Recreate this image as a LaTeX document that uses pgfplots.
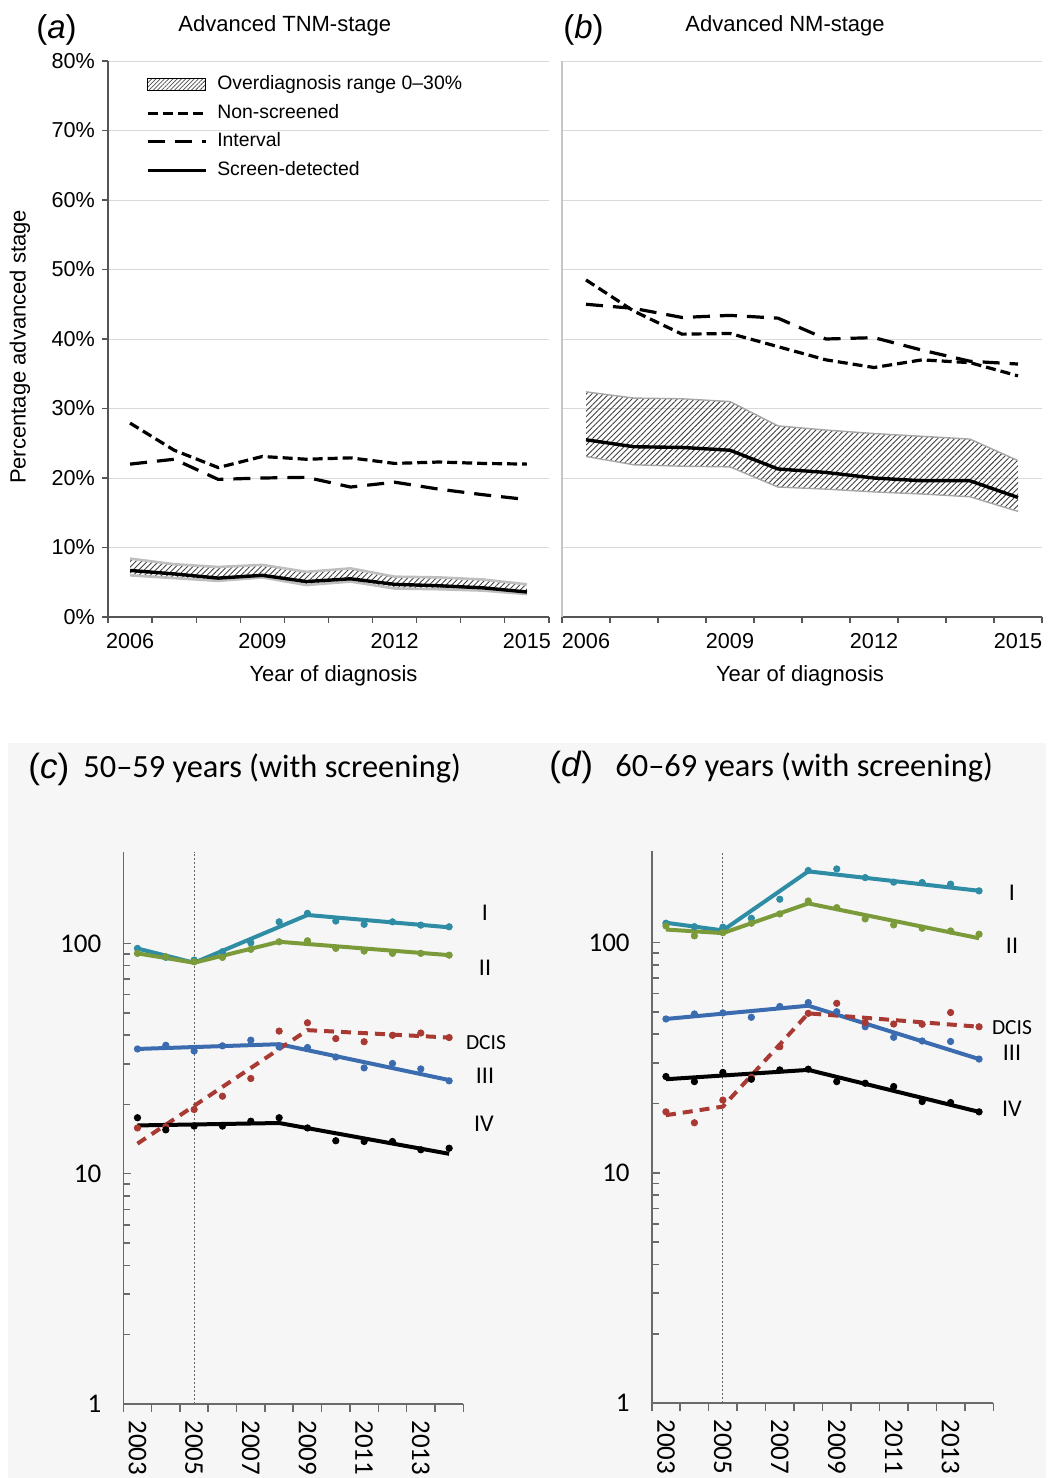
\documentclass[border=0pt]{standalone}
\usepackage{fontspec}
\setmainfont{Liberation Sans}
\newfontfamily\calib{Carlito}
\usepackage{pgfplots}
\pgfplotsset{compat=1.18}
\usetikzlibrary{patterns.meta}
\definecolor{cI}{HTML}{2E8CA5}
\definecolor{cII}{HTML}{7B9B3B}
\definecolor{cIII}{HTML}{3C6CB0}
\definecolor{cDC}{HTML}{A93A33}
\definecolor{bgc}{HTML}{F6F6F6}
\definecolor{gridc}{HTML}{D9D9D9}
\definecolor{axc}{HTML}{555555}
\definecolor{axc2}{HTML}{6A6A6A}
\pgfplotsset{
  toppanel/.style={
    anchor=south west, scale only axis, height=278pt,
    xmin=2005.5, xmax=2015.5, ymin=0, ymax=80,
    axis x line*=bottom, axis y line*=left,
    tick align=outside, major tick length=3pt,
    xtick={2005.5,2006.5,...,2015.5}, xticklabels={},
    extra x ticks={2006,2009,2012,2015}, extra x tick labels={2006,2009,2012,2015},
    extra x tick style={major tick length=0pt},
    xticklabel shift=4.5pt,
    ytick={0,10,...,80},
    ymajorgrids, major grid style={gridc, line width=0.5pt},
    x axis line style={axc, line width=0.7pt}, tick style={axc, line width=0.6pt},
    ticklabel style={font=\fontsize{10.8}{13}\selectfont},
    /pgf/number format/assume math mode=true,
    clip=false,
  },
  botpanel/.style={
    anchor=south west, scale only axis,
    xmin=2002.5, xmax=2014.5, ymin=1, ymax=250,
    axis x line*=bottom, axis y line=none,
    tick align=outside,
    xtick={2002.5,2003.5,...,2014.5}, xticklabels={},
    extra x ticks={2003,2005,2007,2009,2011,2013},
    extra x tick labels={2003,2005,2007,2009,2011,2013},
    extra x tick style={major tick length=0pt},
    xticklabel style={rotate=-90, anchor=west, inner sep=0.5pt},
    xticklabel shift=7.5pt,
    major tick length=4pt,
    axis line style={axc2, line width=0.8pt}, tick style={axc2, line width=0.8pt},
    ticklabel style={font=\calib\fontsize{13.5}{16}\selectfont},
    clip=false,
  },
  botyaxis/.style={
    anchor=south west, scale only axis,
    xmin=2002.5, xmax=2014.5, ymin=1, ymax=250,
    axis x line=none, axis y line*=left,
    tick align=inside,
    ytick={1,10,100}, yticklabels={1,10,100},
    major tick length=4pt, minor tick length=3.5pt,
    axis line style={axc2, line width=0.8pt}, tick style={axc2, line width=0.8pt},
    ticklabel style={font=\calib\fontsize{13.5}{16}\selectfont},
    yticklabel style={xshift=-7.5pt},
  },
  hatch/.style={draw=none, pattern={Lines[angle=45,distance=2pt,line width=0.45pt]}, pattern color=black!75},
  nonscr/.style={black, line width=1.6pt, dash pattern=on 5pt off 2.5pt},
  interv/.style={black, line width=1.6pt, dash pattern=on 8.5pt off 5pt},
  scrdet/.style={black, line width=1.7pt},
  fitl/.style={line width=2pt},
  pts/.style={only marks, mark=*, mark size=1.6pt},
}
\begin{document}
\begin{tikzpicture}
\begin{scope}[x=1pt,y=1pt]
\useasboundingbox (0,0) rectangle (523,-739);
\fill[bgc] (4,-371.5) rectangle (523,-739);
\end{scope}

% ---------- (a)
\begin{axis}[toppanel, at={(54pt,-308.5pt)}, width=220.5pt,
  y axis line style={axc, line width=0.7pt},
  yticklabel={\pgfmathprintnumber{\tick}\%},
  legend image code/.code={\draw[#1] (0pt,0pt) -- (29pt,0pt);},
  legend cell align=left,
  legend style={draw=none, fill=none, at={(axis description cs:0.085,0.978)}, anchor=north west,
    inner sep=0pt, row sep=3.3pt, font=\fontsize{9.7}{11}\selectfont,
    nodes={inner sep=1pt, text height=7pt, text depth=2pt},
    /tikz/every odd column/.append style={column sep=4pt}},
]
\addlegendimage{legend image code/.code={\path[pattern={Lines[angle=45,distance=1.5pt,line width=0.4pt]}, pattern color=black!70] (0pt,-3pt) rectangle (29pt,3pt);}}
\addlegendentry{Overdiagnosis range 0–30\%}
\addlegendimage{nonscr}
\addlegendentry{Non-screened}
\addlegendimage{interv}
\addlegendentry{Interval}
\addlegendimage{scrdet}
\addlegendentry{Screen-detected}
\addplot[hatch, forget plot] coordinates {(2006,8.4) (2007,7.6) (2008,7.2) (2009,7.5) (2010,6.5) (2011,7.0) (2012,5.8) (2013,5.7) (2014,5.4) (2015,4.7)
  (2015,3.3) (2014,3.8) (2013,4.0) (2012,4.1) (2011,5.1) (2010,4.6) (2009,5.7) (2008,5.2) (2007,5.6) (2006,6.0)};
\addplot[gray!50, line width=1.3pt, forget plot] coordinates {(2006,8.4) (2007,7.6) (2008,7.2) (2009,7.5) (2010,6.5) (2011,7.0) (2012,5.8) (2013,5.7) (2014,5.4) (2015,4.7)};
\addplot[gray!50, line width=1.3pt, forget plot] coordinates {(2006,6.0) (2007,5.6) (2008,5.2) (2009,5.7) (2010,4.6) (2011,5.1) (2012,4.1) (2013,4.0) (2014,3.8) (2015,3.3)};
\addplot[scrdet, forget plot] coordinates {(2006,6.7) (2007,6.2) (2008,5.6) (2009,6.0) (2010,5.1) (2011,5.5) (2012,4.7) (2013,4.5) (2014,4.2) (2015,3.6)};
\addplot[nonscr, forget plot] coordinates {(2006,27.9) (2007,24.0) (2008,21.5) (2009,23.1) (2010,22.7) (2011,22.9) (2012,22.1) (2013,22.3) (2014,22.1) (2015,22.0)};
\addplot[interv, forget plot] coordinates {(2006,22.0) (2007,22.7) (2008,19.8) (2009,20.0) (2010,20.1) (2011,18.7) (2012,19.4) (2013,18.4) (2014,17.6) (2015,16.9)};
\end{axis}

% ---------- (b)
\begin{axis}[toppanel, at={(281pt,-308.5pt)}, width=240pt,
  y axis line style={gray!45, line width=0.7pt},
  yticklabels={}, ytick style={draw=none},
]
\addplot[hatch] coordinates {(2006,32.4) (2007,31.5) (2008,31.4) (2009,31.0) (2010,27.5) (2011,26.9) (2012,26.4) (2013,26.0) (2014,25.6) (2015,22.5)
  (2015,15.2) (2014,17.3) (2013,17.7) (2012,18.0) (2011,18.4) (2010,18.7) (2009,21.6) (2008,21.7) (2007,21.9) (2006,23.1)};
\addplot[gray!70, line width=0.7pt] coordinates {(2006,32.4) (2007,31.5) (2008,31.4) (2009,31.0) (2010,27.5) (2011,26.9) (2012,26.4) (2013,26.0) (2014,25.6) (2015,22.5)};
\addplot[gray!70, line width=0.7pt] coordinates {(2006,23.1) (2007,21.9) (2008,21.7) (2009,21.6) (2010,18.7) (2011,18.4) (2012,18.0) (2013,17.7) (2014,17.3) (2015,15.2)};
\addplot[scrdet] coordinates {(2006,25.5) (2007,24.5) (2008,24.4) (2009,24.0) (2010,21.3) (2011,20.8) (2012,20.0) (2013,19.6) (2014,19.6) (2015,17.2)};
\addplot[nonscr] coordinates {(2006,48.5) (2007,44.0) (2008,40.7) (2009,40.8) (2010,38.9) (2011,37.0) (2012,35.9) (2013,37.0) (2014,36.6) (2015,34.7)};
\addplot[interv] coordinates {(2006,45.0) (2007,44.4) (2008,43.1) (2009,43.4) (2010,43.0) (2011,40.0) (2012,40.2) (2013,38.4) (2014,36.8) (2015,36.4)};
\end{axis}

% ---------- (c)
\begin{axis}[ymode=log, botpanel, at={(61.65pt,-702pt)}, width=170pt, height=276.15pt]
\addplot[gray!80!black, line width=0.5pt, dash pattern=on 1pt off 1pt] coordinates {(2005,1) (2005,250)};
\addplot[fitl, cI] coordinates {(2003,95) (2005,82.4) (2009,132.8) (2014,117.4)};
\addplot[pts, cI] coordinates {(2003,95.1) (2004,87.0) (2005,84.6) (2006,92) (2007,100.6) (2008,124) (2009,135) (2010,125) (2011,121) (2012,124) (2013,120) (2014,118)};
\addplot[fitl, cII] coordinates {(2003,90.5) (2005,82.4) (2008,101.6) (2014,88.9)};
\addplot[pts, cII] coordinates {(2003,90.5) (2004,87.5) (2005,83.2) (2006,86.9) (2007,94.2) (2008,101.6) (2009,102.6) (2010,95.1) (2011,92.6) (2012,90.5) (2013,90.5) (2014,88.9)};
\addplot[fitl, cIII] coordinates {(2003,34.8) (2008,36.5) (2014,25.5)};
\addplot[pts, cIII] coordinates {(2003,34.8) (2004,36.1) (2005,34.1) (2006,35.9) (2007,38.0) (2008,35.5) (2009,35.3) (2010,32.1) (2011,28.8) (2012,30.1) (2013,28.5) (2014,25.3)};
\addplot[fitl, cDC, dash pattern=on 5pt off 3.5pt] coordinates {(2003,13.5) (2009,42.0) (2014,39.0)};
\addplot[pts, cDC] coordinates {(2003,15.8) (2004,16.0) (2005,19.0) (2006,21.7) (2007,25.9) (2008,41.6) (2009,45.2) (2010,38.6) (2011,37.4) (2012,39.9) (2013,40.8) (2014,39.0)};
\addplot[fitl, black] coordinates {(2003,16.2) (2008,16.6) (2014,12.2)};
\addplot[pts, black] coordinates {(2003,17.5) (2004,15.5) (2005,16.1) (2006,16.1) (2007,16.9) (2008,17.5) (2009,15.8) (2010,13.9) (2011,13.8) (2012,13.8) (2013,12.7) (2014,12.9)};
\end{axis}
\begin{axis}[ymode=log, botyaxis, at={(61.65pt,-702pt)}, width=170pt, height=276.15pt]
\end{axis}

% ---------- (d)
\begin{axis}[ymode=log, botpanel, at={(325.85pt,-701.5pt)}, width=170.8pt, height=276pt]
\addplot[gray!80!black, line width=0.5pt, dash pattern=on 1pt off 1pt] coordinates {(2005,1) (2005,250)};
\addplot[fitl, cI] coordinates {(2003,122) (2005,113) (2008,204) (2014,168)};
\addplot[pts, cI] coordinates {(2003,121.4) (2004,117.3) (2005,116.7) (2006,127.6) (2007,154.4) (2008,205.7) (2009,209) (2010,191.6) (2011,183.1) (2012,182.4) (2013,179.5) (2014,167.8)};
\addplot[fitl, cII] coordinates {(2003,114) (2005,110) (2008,148) (2014,104.5)};
\addplot[pts, cII] coordinates {(2003,118.2) (2004,107.0) (2005,110.5) (2006,121.4) (2007,133.3) (2008,151.7) (2009,141.9) (2010,126.8) (2011,119.4) (2012,115.5) (2013,112.4) (2014,108.8)};
\addplot[fitl, cIII] coordinates {(2003,46.6) (2008,53.2) (2014,31.2)};
\addplot[pts, cIII] coordinates {(2003,46.6) (2004,49.0) (2005,49.5) (2006,47.4) (2007,52.8) (2008,54.9) (2009,50.1) (2010,43.1) (2011,38.8) (2012,37.4) (2013,37.2) (2014,31.2)};
\addplot[fitl, cDC, dash pattern=on 5pt off 3.5pt] coordinates {(2003,17.8) (2005,19.4) (2008,49.3) (2014,43.1)};
\addplot[pts, cDC] coordinates {(2003,18.4) (2004,16.5) (2005,20.7) (2006,26.0) (2007,35.3) (2008,49.3) (2009,54.5) (2010,44.9) (2011,44.3) (2012,44.2) (2013,49.7) (2014,43.1)};
\addplot[fitl, black] coordinates {(2003,25.5) (2008,28.0) (2014,18.4)};
\addplot[pts, black] coordinates {(2003,26.2) (2004,24.9) (2005,27.3) (2006,25.5) (2007,28.0) (2008,28.2) (2009,24.9) (2010,24.5) (2011,23.7) (2012,20.4) (2013,20.2) (2014,18.4)};
\end{axis}
\begin{axis}[ymode=log, botyaxis, at={(325.85pt,-701.5pt)}, width=170.8pt, height=276pt]
\end{axis}

% ---------- texts
\begin{scope}[x=1pt,y=1pt]
\node[anchor=base west, inner sep=0pt, font=\fontsize{16.5}{18}\selectfont] at (18,-19) {(\textit{a})};
\node[anchor=base west, inner sep=0pt, font=\fontsize{11}{13}\selectfont] at (89,-15.5) {Advanced TNM-stage};
\node[anchor=base west, inner sep=0pt, font=\fontsize{16.5}{18}\selectfont] at (281.5,-19) {(\textit{b})};
\node[anchor=base west, inner sep=0pt, font=\fontsize{11}{13}\selectfont] at (342.5,-15.5) {Advanced NM-stage};
\node[anchor=base, inner sep=0pt, font=\fontsize{11}{13}\selectfont] at (166.75,-340.5) {Year of diagnosis};
\node[anchor=base, inner sep=0pt, font=\fontsize{11}{13}\selectfont] at (400,-340.5) {Year of diagnosis};
\node[rotate=90, inner sep=0pt, font=\fontsize{11}{13}\selectfont] at (10,-173.5) {Percentage advanced stage};

\node[anchor=base west, inner sep=0pt, font=\fontsize{17.5}{20}\selectfont] at (14,-389) {(\textit{c})};
\node[anchor=base west, inner sep=0pt, font=\calib\fontsize{16.2}{19}\selectfont] at (41.5,-388.5) {50–59 years (with screening)};
\node[anchor=base west, inner sep=0pt, font=\fontsize{17.5}{20}\selectfont] at (274.5,-388) {(\textit{d})};
\node[anchor=base west, inner sep=0pt, font=\calib\fontsize{16.2}{19}\selectfont] at (307.5,-388) {60–69 years (with screening)};

\begin{scope}[every node/.style={inner sep=0pt, font=\calib\fontsize{12}{14}\selectfont}]
\node at (242.5,-456.5) {I};
\node at (242.5,-484) {II};
\node[font=\calib\fontsize{10.75}{13}\selectfont] at (243,-521.5) {DCIS};
\node at (242.5,-538) {III};
\node at (242,-562) {IV};
\node at (506,-446.5) {I};
\node at (506,-473) {II};
\node[font=\calib\fontsize{10.75}{13}\selectfont] at (506,-514) {DCIS};
\node at (506,-526.5) {III};
\node at (506,-554.5) {IV};
\end{scope}
\end{scope}
\end{tikzpicture}
\end{document}
